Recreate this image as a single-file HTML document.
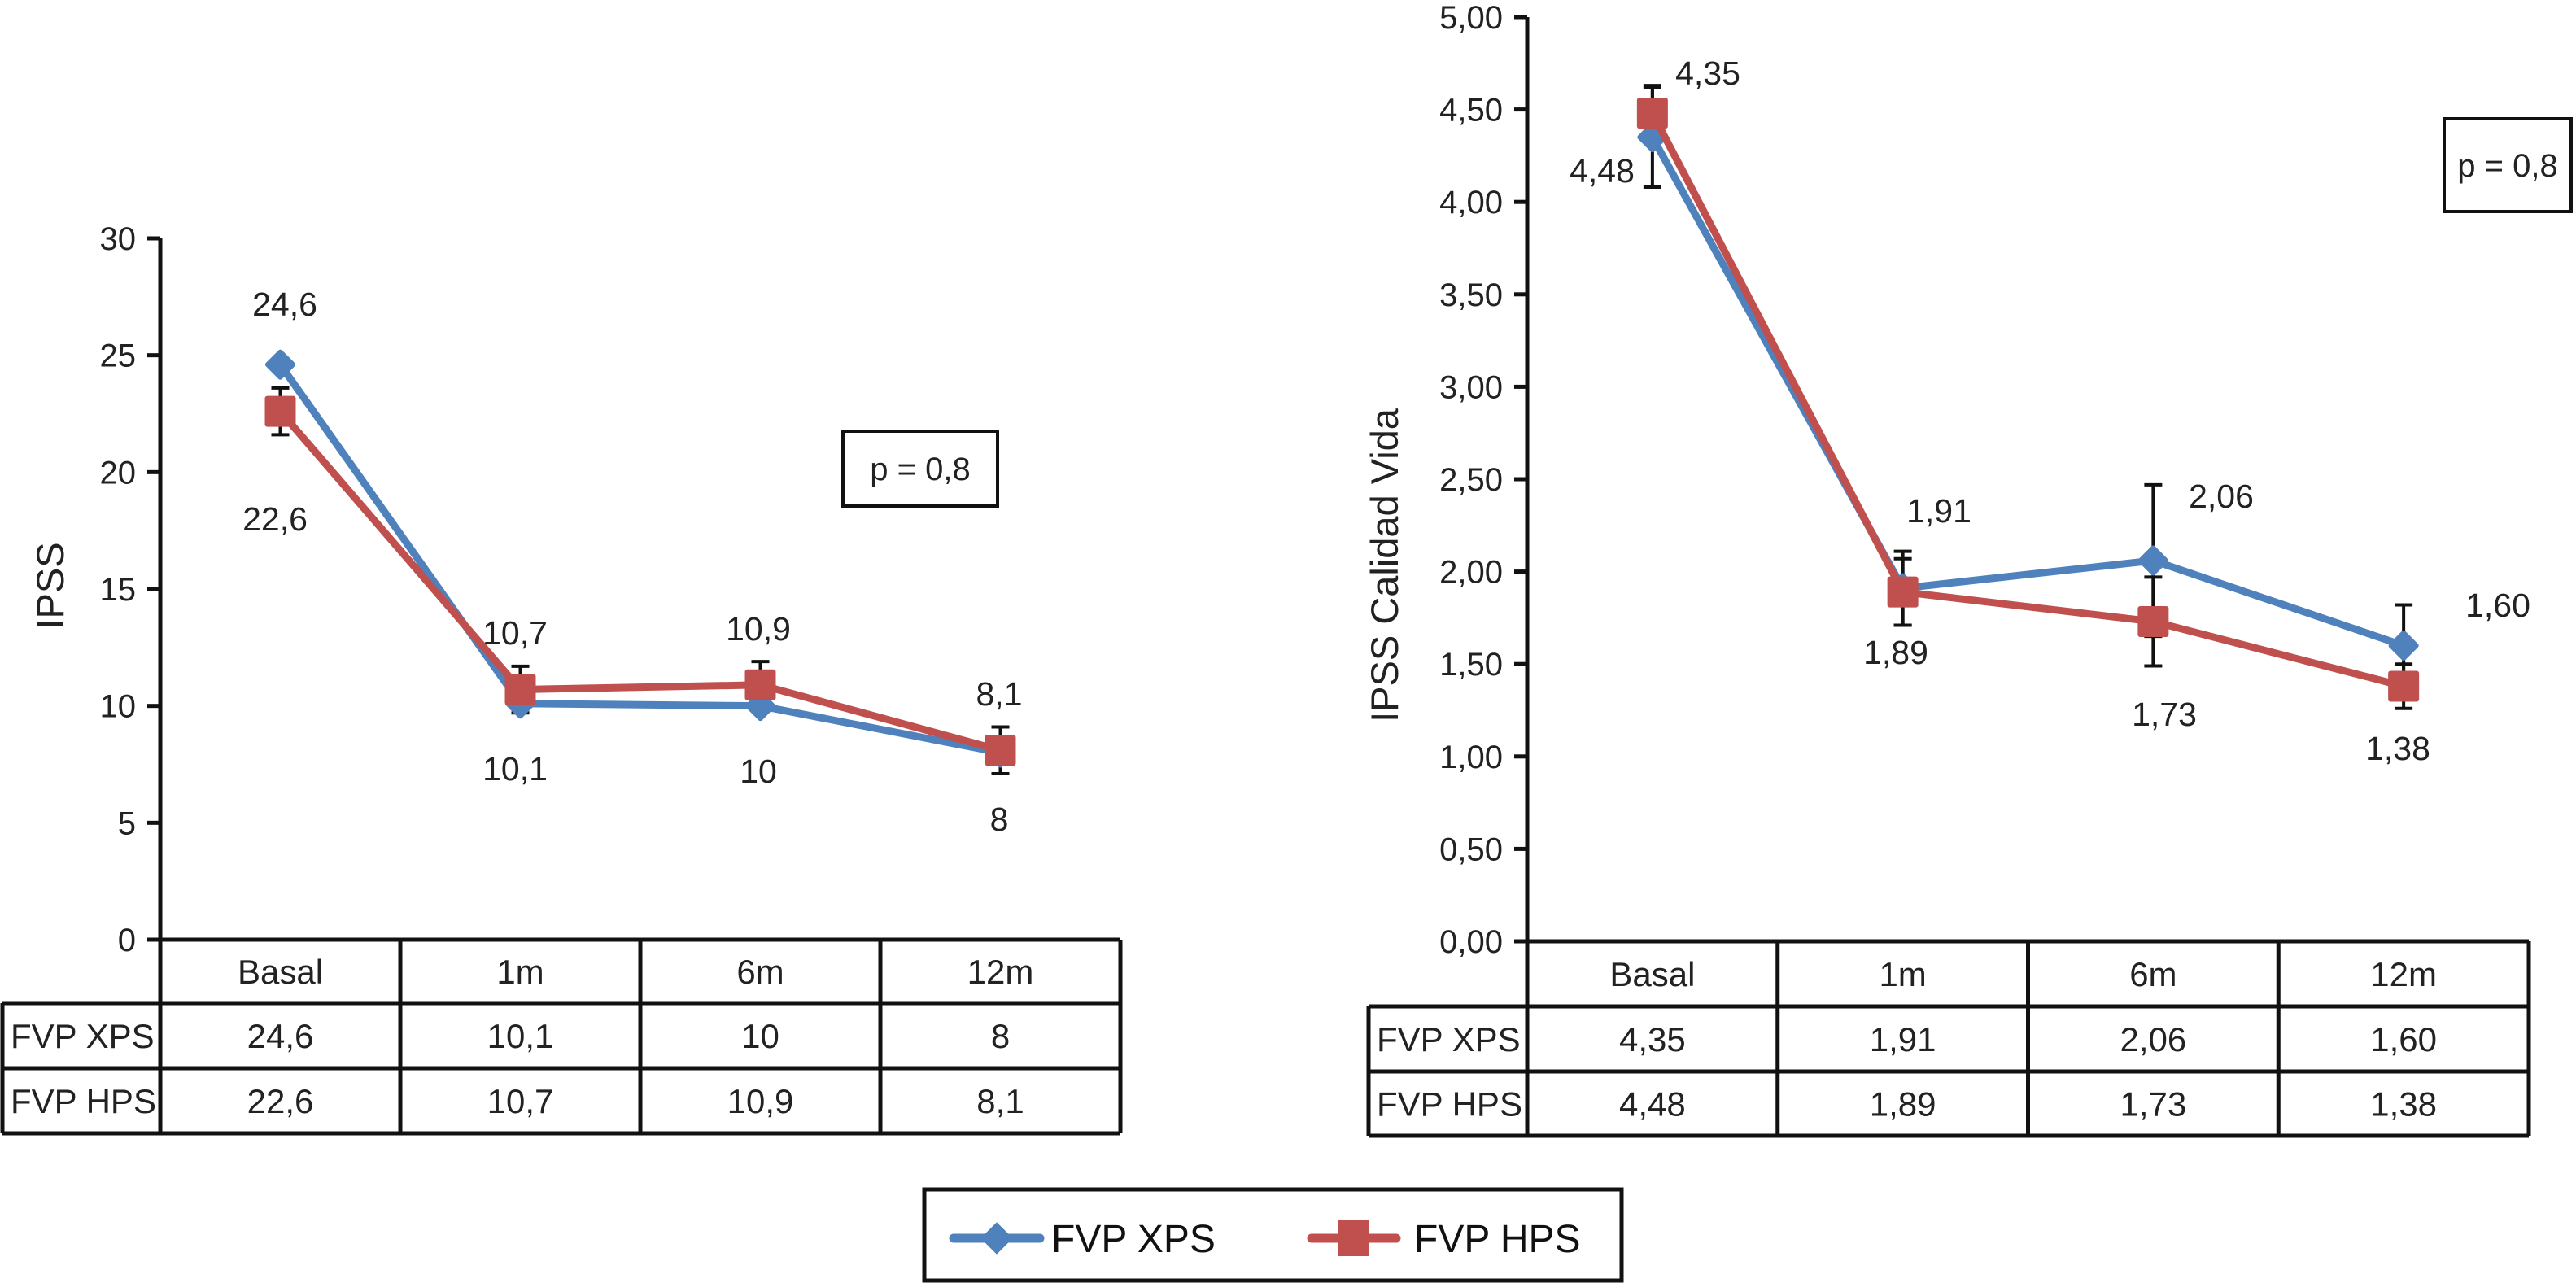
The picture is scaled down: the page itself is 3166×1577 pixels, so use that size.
<!DOCTYPE html>
<html><head><meta charset="utf-8"><style>
html,body{margin:0;padding:0;background:#fff}
svg{display:block;font-family:"Liberation Sans",Arial,sans-serif}
</style></head><body>
<svg id="s" width="3166" height="1577" viewBox="0 0 3166 1577" xmlns="http://www.w3.org/2000/svg"></svg>
<script>
const categories = ["Basal","1m","6m","12m"];
const leftXps = [24.6,10.1,10,8];
const leftHps = [22.6,10.7,10.9,8.1];
const leftXpsErr = [0,0,0,0];
const leftHpsErr = [1,1,1,1];
const leftTicks = ["0","5","10","15","20","25","30"];
const leftXpsText = ["24,6","10,1","10","8"];
const leftHpsText = ["22,6","10,7","10,9","8,1"];
const rightXps = [4.35,1.91,2.06,1.60];
const rightHps = [4.48,1.89,1.73,1.38];
const rightXpsErr = [0.27,0.2,0.41,0.22];
const rightHpsErr = [0.15,0.18,0.24,0.12];
const rightTicks = ["0,00","0,50","1,00","1,50","2,00","2,50","3,00","3,50","4,00","4,50","5,00"];
const rightXpsText = ["4,35","1,91","2,06","1,60"];
const rightHpsText = ["4,48","1,89","1,73","1,38"];

const NS="http://www.w3.org/2000/svg";
const svg=document.getElementById('s');
function mk(tag,attrs,parent,text){const e=document.createElementNS(NS,tag);for(const k in attrs)e.setAttribute(k,attrs[k]);if(text!==undefined)e.textContent=text;(parent||svg).appendChild(e);return e;}
const BLUE="#4F81BD", RED="#C0504D";

function chart(cfg){
  const g=mk('g',{});
  
  
  const colW=(cfg.right-cfg.axisX)/categories.length;
  const xc=i=>cfg.axisX+colW*(i+0.5);
  const y=v=>cfg.y0-(v/cfg.max)*(cfg.y0-cfg.yTop);
  const ax=mk('line',{x1:cfg.axisX,y1:cfg.yTop,x2:cfg.axisX,y2:cfg.rows[3],stroke:'#111','stroke-width':5},g);
  
  
  cfg.ticks.forEach((t,i)=>{
    const v=i*cfg.max/(cfg.ticks.length-1);
    const tk=mk('line',{x1:cfg.axisX-16,y1:y(v),x2:cfg.axisX,y2:y(v),stroke:'#111','stroke-width':5},g);
    
    
    const tl=mk('text',{x:cfg.axisX-30,y:y(v)+14,'font-size':40,'text-anchor':'end',fill:'#222'},g,t);
    
    
  });
  const yt=mk('text',{x:0,y:0,'font-size':47,'text-anchor':'middle',fill:'#222',transform:`translate(${cfg.titleX},${cfg.titleY}) rotate(-90)`},g,cfg.title);
  
  
  const tb=mk('g',{stroke:'#111','stroke-width':5,fill:'none'},g);
  
  
  mk('line',{x1:cfg.axisX,y1:cfg.rows[0],x2:cfg.right,y2:cfg.rows[0]},tb);
  mk('line',{x1:cfg.tableLeft,y1:cfg.rows[1],x2:cfg.right,y2:cfg.rows[1]},tb);
  mk('line',{x1:cfg.tableLeft,y1:cfg.rows[2],x2:cfg.right,y2:cfg.rows[2]},tb);
  mk('line',{x1:cfg.tableLeft,y1:cfg.rows[3],x2:cfg.right,y2:cfg.rows[3]},tb);
  mk('line',{x1:cfg.tableLeft,y1:cfg.rows[1],x2:cfg.tableLeft,y2:cfg.rows[3]},tb);
  for(let i=1;i<=categories.length;i++)mk('line',{x1:cfg.axisX+colW*i,y1:cfg.rows[0],x2:cfg.axisX+colW*i,y2:cfg.rows[3]},tb);
  const rowMid=k=>(cfg.rows[k]+cfg.rows[k+1])/2+15;
  categories.forEach((c,i)=>{
    const t=mk('text',{x:xc(i),y:rowMid(0),'font-size':42,'text-anchor':'middle',fill:'#222'},g,c);
    
    
    const a=mk('text',{x:xc(i),y:rowMid(1),'font-size':42,'text-anchor':'middle',fill:'#222'},g,cfg.xpsText[i]);
    
    
    const b=mk('text',{x:xc(i),y:rowMid(2),'font-size':42,'text-anchor':'middle',fill:'#222'},g,cfg.hpsText[i]);
    
    
  });
  const r1=mk('text',{x:cfg.tableLeft+10,y:rowMid(1),'font-size':42,fill:'#222'},g,'FVP XPS');
  
  
  const r2=mk('text',{x:cfg.tableLeft+10,y:rowMid(2),'font-size':42,fill:'#222'},g,'FVP HPS');
  
  
  function err(vals,errs){
    vals.forEach((v,i)=>{ if(!errs[i])return;
      const eg=mk('g',{stroke:'#111','stroke-width':4},g);
      
      
      mk('line',{x1:xc(i),y1:y(v-errs[i]),x2:xc(i),y2:y(v+errs[i])},eg);
      mk('line',{x1:xc(i)-11,y1:y(v-errs[i]),x2:xc(i)+11,y2:y(v-errs[i])},eg);
      mk('line',{x1:xc(i)-11,y1:y(v+errs[i]),x2:xc(i)+11,y2:y(v+errs[i])},eg);
    });
  }
  err(cfg.xps,cfg.xpsErr); err(cfg.hps,cfg.hpsErr);
  const lx=mk('polyline',{points:cfg.xps.map((v,i)=>xc(i)+','+y(v)).join(' '),fill:'none',stroke:BLUE,'stroke-width':9,'stroke-linejoin':'round'},g);
  
  
  cfg.xps.forEach((v,i)=>{
    const d=mk('rect',{x:xc(i)-14,y:y(v)-14,width:28,height:28,rx:3,fill:BLUE,transform:`rotate(45 ${xc(i)} ${y(v)})`},g);
    
    
  });
  const lh=mk('polyline',{points:cfg.hps.map((v,i)=>xc(i)+','+y(v)).join(' '),fill:'none',stroke:RED,'stroke-width':9,'stroke-linejoin':'round'},g);
  
  
  cfg.hps.forEach((v,i)=>{
    const d=mk('rect',{x:xc(i)-19,y:y(v)-19,width:38,height:38,rx:3,fill:RED},g);
    
    
  });
  cfg.xpsLab.forEach((p,i)=>{
    const t=mk('text',{x:p[0],y:p[1]+14,'font-size':41,'text-anchor':'middle',fill:'#222'},g,cfg.xpsText[i]);
    
    
  });
  cfg.hpsLab.forEach((p,i)=>{
    const t=mk('text',{x:p[0],y:p[1]+14,'font-size':41,'text-anchor':'middle',fill:'#222'},g,cfg.hpsText[i]);
    
    
  });
  const pb=mk('rect',{x:cfg.pbox[0],y:cfg.pbox[1],width:cfg.pbox[2],height:cfg.pbox[3],fill:'#fff',stroke:'#111','stroke-width':4},g);
  
  
  const pt=mk('text',{x:cfg.pbox[0]+cfg.pbox[2]/2,y:cfg.pbox[1]+cfg.pbox[3]/2+14,'font-size':40,'text-anchor':'middle',fill:'#222'},g,'p = 0,8');
  
  
}

chart({name:'ipss-chart',axisX:197,right:1377,tableLeft:3,yTop:293,y0:1155,max:30,rows:[1155,1233,1313,1393],
  ticks:leftTicks,xps:leftXps,hps:leftHps,xpsErr:leftXpsErr,hpsErr:leftHpsErr,xpsText:leftXpsText,hpsText:leftHpsText,
  title:'IPSS',titleX:78,titleY:720,
  xpsLab:[[350,374],[633,945],[932,948],[1228,1007]],
  hpsLab:[[338,638],[633,778],[932,773],[1228,853]],
  pbox:[1036,530,190,92]});
chart({name:'ipss-quality-chart',axisX:1877,right:3108,tableLeft:1682,yTop:21,y0:1157,max:5,rows:[1157,1237,1317,1396],
  ticks:rightTicks,xps:rightXps,hps:rightHps,xpsErr:rightXpsErr,hpsErr:rightHpsErr,xpsText:rightXpsText,hpsText:rightHpsText,
  title:'IPSS Calidad Vida',titleX:1718,titleY:695,
  xpsLab:[[2099,90],[2383,628],[2730,610],[3070,744]],
  hpsLab:[[1969,210],[2330,802],[2660,878],[2947,920]],
  pbox:[3004,146,156,114]});

const lg=mk('g',{});


mk('rect',{x:1136,y:1462,width:857,height:112,fill:'#fff',stroke:'#111','stroke-width':5},lg);
const e1=mk('g',{},lg);


mk('line',{x1:1172,y1:1522,x2:1278,y2:1522,stroke:BLUE,'stroke-width':11,'stroke-linecap':'round'},e1);
mk('rect',{x:1211,y:1508,width:28,height:28,fill:BLUE,transform:'rotate(45 1225 1522)'},e1);
mk('text',{x:1292,y:1539,'font-size':48,fill:'#111'},e1,'FVP XPS');
const e2=mk('g',{},lg);


mk('line',{x1:1612,y1:1522,x2:1716,y2:1522,stroke:RED,'stroke-width':11,'stroke-linecap':'round'},e2);
mk('rect',{x:1645,y:1500,width:38,height:44,fill:RED},e2);
mk('text',{x:1738,y:1539,'font-size':48,fill:'#111'},e2,'FVP HPS');
</script>
</body></html>
